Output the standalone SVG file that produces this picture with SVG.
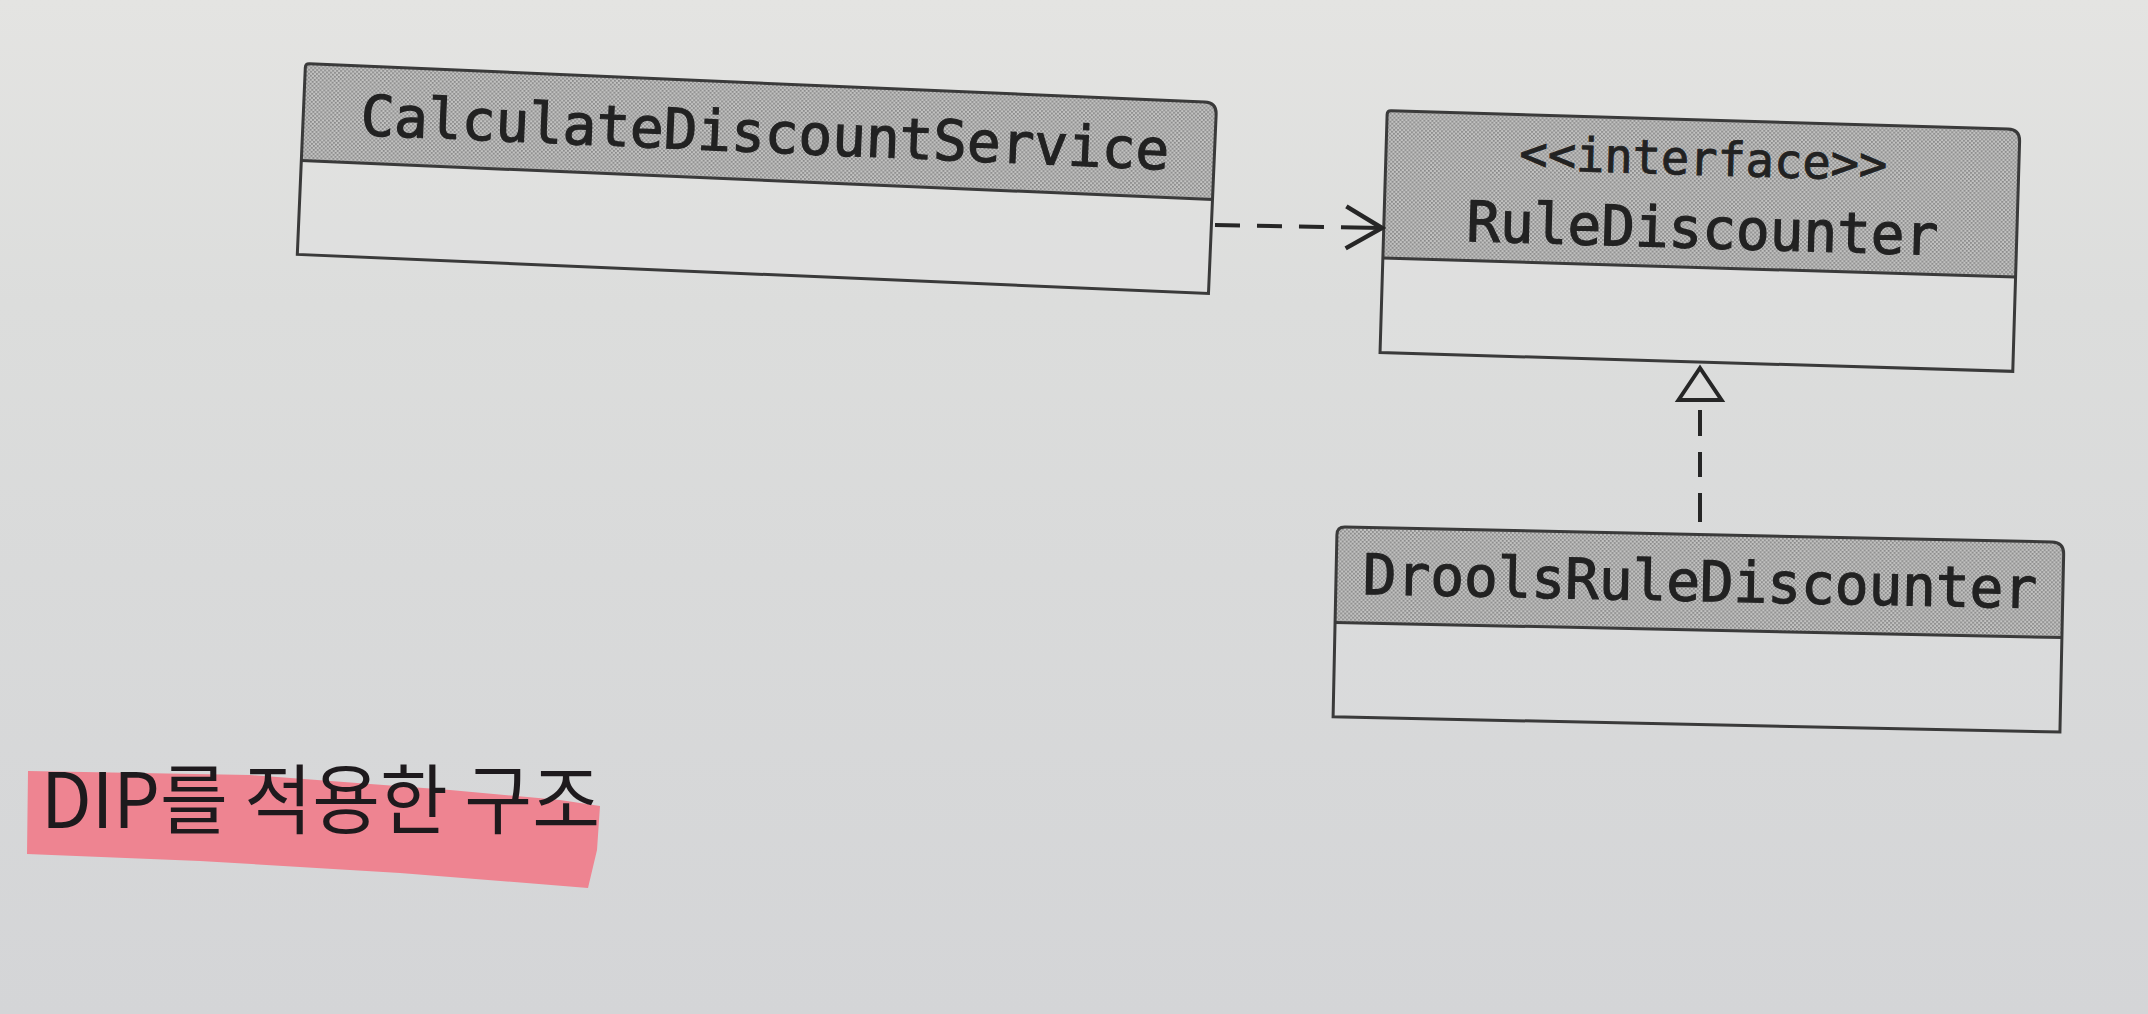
<svg xmlns="http://www.w3.org/2000/svg" width="2148" height="1014" viewBox="0 0 2148 1014">
  <defs>
    <linearGradient id="paper" x1="0" y1="0" x2="0" y2="1">
      <stop offset="0" stop-color="#e4e4e2"/>
      <stop offset="0.3" stop-color="#dcdddc"/>
      <stop offset="1" stop-color="#d4d5d7"/>
    </linearGradient>
    <pattern id="halftone" width="4" height="4" patternUnits="userSpaceOnUse">
      <rect width="4" height="4" fill="#c2c2c1"/>
      <rect x="0" y="0" width="1.8" height="1.8" fill="#888888"/>
      <rect x="2" y="2" width="1.8" height="1.8" fill="#888888"/>
    </pattern>
    <marker id="openArrow" markerUnits="userSpaceOnUse" viewBox="-4 -4 44 50" markerWidth="44" markerHeight="50" refX="36" refY="21" orient="auto" overflow="visible">
      <path d="M0,0 L36,21 L0,42" fill="none" stroke="#262626" stroke-width="4.5" stroke-linejoin="miter"/>
    </marker>
    <marker id="hollowTriangle" markerUnits="userSpaceOnUse" viewBox="-4 -4 40 51" markerWidth="40" markerHeight="51" refX="32" refY="21.5" orient="auto" overflow="visible">
      <path d="M0,0 L32,21.5 L0,43 Z" fill="#dcdcdb" stroke="#262626" stroke-width="4" stroke-linejoin="miter"/>
    </marker>
    <style>
      .header { fill: url(#halftone); }
      .body { fill: #ffffff; fill-opacity: 0.06; }
      .frame { fill: none; stroke: #3a3a3a; stroke-width: 3; }
      .div { stroke: #3a3a3a; stroke-width: 3; }
      .cls { font-family: "DejaVu Sans Mono", "Liberation Mono", monospace; font-size: 56px; fill: #222222; stroke: #222222; stroke-width: 1.2; text-anchor: middle; }
      .stereo { font-family: "DejaVu Sans Mono", "Liberation Mono", monospace; font-size: 47px; fill: #222222; stroke: #222222; stroke-width: 0.9; text-anchor: middle; }
      .conn { fill: none; stroke: #262626; stroke-width: 4; }
      .caption { font-family: "Noto Sans CJK KR", "Noto Sans", sans-serif; font-size: 76px; fill: #1e1a1d; }
    </style>
  </defs>

  <rect x="0" y="0" width="2148" height="1014" fill="url(#paper)"/>

  <g id="node-CalculateDiscountService" transform="rotate(2.45 757 178)">
    <rect class="body" x="301" y="83" width="912" height="191"/>
    <path class="header" d="M301,180 L301,87 Q301,83 305,83 L1201,83 Q1213,83 1213,95 L1213,180 Z"/>
    <path class="frame" d="M301,274 L301,87 Q301,83 305,83 L1201,83 Q1213,83 1213,95 L1213,274 Z"/>
    <line class="div" x1="301" y1="180" x2="1213" y2="180"/>
    <text class="cls" x="763" y="152">CalculateDiscountService</text>
  </g>

  <g id="node-RuleDiscounter" transform="rotate(1.7 1700 241)">
    <rect class="body" x="1383.5" y="120" width="633" height="242"/>
    <path class="header" d="M1383.5,267.5 L1383.5,124 Q1383.5,120 1387.5,120 L2004.5,120 Q2016.5,120 2016.5,132 L2016.5,267.5 Z"/>
    <path class="frame" d="M1383.5,362 L1383.5,124 Q1383.5,120 1387.5,120 L2004.5,120 Q2016.5,120 2016.5,132 L2016.5,362 Z"/>
    <line class="div" x1="1383.5" y1="267.5" x2="2016.5" y2="267.5"/>
    <text class="stereo" x="1701" y="175">&lt;&lt;interface&gt;&gt;</text>
    <text class="cls" x="1702" y="248">RuleDiscounter</text>
  </g>

  <g id="node-DroolsRuleDiscounter" transform="rotate(1.2 1698.5 629.5)">
    <rect class="body" x="1335" y="534.5" width="727" height="190"/>
    <path class="header" d="M1335,630 L1335,542.5 Q1335,534.5 1343,534.5 L2050,534.5 Q2062,534.5 2062,546.5 L2062,630 Z"/>
    <path class="frame" d="M1335,724.5 L1335,542.5 Q1335,534.5 1343,534.5 L2050,534.5 Q2062,534.5 2062,546.5 L2062,724.5 Z"/>
    <line class="div" x1="1335" y1="630" x2="2062" y2="630"/>
    <text class="cls" x="1699" y="601">DroolsRuleDiscounter</text>
  </g>

  <g id="connectors">
    <path class="conn" d="M1215,225 L1382,228" stroke-dasharray="25 17 25 17 25 17 41" marker-end="url(#openArrow)"/>
    <path class="conn" d="M1700,522 L1700,368" stroke-dasharray="29 16 25 16 26 42" marker-end="url(#hollowTriangle)"/>
  </g>

  <g id="caption">
    <polygon points="28,771 250,775 450,790 560,800 600,806 597,850 588,888 400,873 200,861 27,854" fill="#ee8491"/>
    <text class="caption" x="41" y="828" textLength="559" lengthAdjust="spacingAndGlyphs">DIP를 적용한 구조</text>
  </g>
</svg>
